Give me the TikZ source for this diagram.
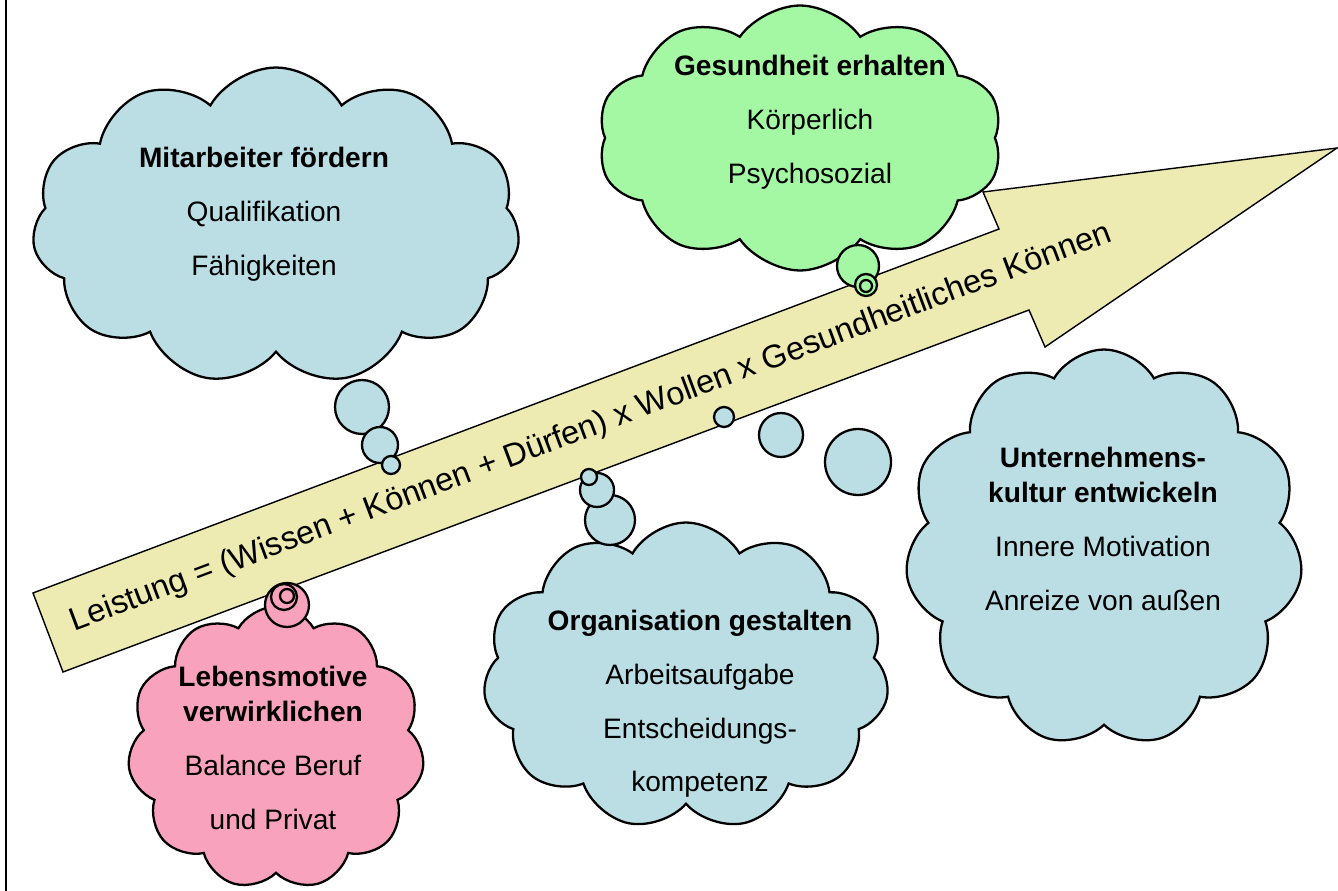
\documentclass[tikz,border=0pt]{standalone}
\usepackage{fontspec}
\setmainfont{Liberation Sans}
\usetikzlibrary{shapes.symbols}
\definecolor{wolkeblau}{RGB}{186,222,228}
\definecolor{wolkegruen}{RGB}{164,248,164}
\definecolor{wolkerosa}{RGB}{248,162,190}
\definecolor{pfeilgelb}{RGB}{237,235,178}
\newcommand{\zgap}{10.6pt}

\begin{document}
\begin{tikzpicture}[x=0.02cm, y=-0.02cm]
\tikzstyle{wolke} = [cloud, draw, line width=1.3pt, cloud puffs=11, cloud puff arc=120, inner sep=0pt]
\tikzstyle{blase} = [circle, draw, line width=1.3pt, inner sep=0pt]
\tikzstyle{schrift} = [align=center, font=\fontsize{16}{20}\selectfont]
\useasboundingbox (0,0) rectangle (1338,891);
\draw[line width=0.8pt] (6,0) -- (6,891);

\coordinate (p1) at (33,593);
\coordinate (p2) at (999,229);
\coordinate (p3) at (983,192);
\coordinate (spitze) at (1337,148);
\coordinate (p5) at (1045,347);
\coordinate (p6) at (1029,310);
\coordinate (p7) at (63,672);
\draw[line width=0.8pt, fill=pfeilgelb] (p1) -- (p2) -- (p3) -- (spitze) -- (p5) -- (p6) -- (p7) -- cycle;
\node[rotate=20.6, font=\fontsize{18.5}{22}\selectfont] (formel) at (591,428)
  {Leistung = (Wissen + Können + Dürfen) x Wollen x Gesundheitliches Können};

\node[wolke, fill=wolkeblau, minimum width=9.76cm, minimum height=6.34cm] (mitarbeiter) at (276,226) {};
\node[wolke, fill=wolkegruen, cloud puffs=10, cloud puff arc=110, minimum width=8.1cm, minimum height=5.3cm] (gesundheit) at (800,138) {};
\node[wolke, fill=wolkeblau, minimum width=7.96cm, minimum height=7.94cm] (kultur) at (1104,548) {};
\node[wolke, fill=wolkeblau, minimum width=8.12cm, minimum height=6.14cm] (organisation) at (686,676) {};
\node[wolke, fill=wolkerosa, minimum width=5.94cm, minimum height=5.66cm] (leben) at (276,748) {};

\node[blase, fill=wolkeblau, minimum size=1.08cm] (m1) at (362,407) {};
\node[blase, fill=wolkeblau, minimum size=0.72cm] (m2) at (380,445) {};
\node[blase, fill=wolkeblau, minimum size=0.36cm] (m3) at (391,465) {};
\node[blase, fill=wolkeblau, minimum size=1.0cm] (o1) at (610,520) {};
\node[blase, fill=wolkeblau, minimum size=0.68cm] (o2) at (597,490) {};
\node[blase, fill=wolkeblau, minimum size=0.32cm] (o3) at (589,477) {};
\node[blase, fill=wolkeblau, minimum size=1.32cm] (k1) at (858,462) {};
\node[blase, fill=wolkeblau, minimum size=0.88cm] (k2) at (781,435) {};
\node[blase, fill=wolkeblau, minimum size=0.4cm] (k3) at (724,417) {};
\node[blase, fill=wolkegruen, minimum size=0.84cm] (g1) at (858,266) {};
\node[blase, fill=wolkegruen, minimum size=0.44cm] (g2) at (866,285) {};
\node[blase, fill=wolkegruen, minimum size=0.24cm] (g3) at (866,286) {};
\node[blase, fill=wolkerosa, minimum size=0.88cm] (l1) at (287,605) {};
\node[blase, fill=wolkerosa, minimum size=0.52cm] (l2) at (284,597) {};
\node[blase, fill=wolkerosa, minimum size=0.28cm] (l3) at (287,596) {};

\node[schrift] (mitarbeitertext) at (264,214)
  {\textbf{Mitarbeiter fördern}\\[\zgap] Qualifikation\\[\zgap] Fähigkeiten};
\node[schrift] (gesundheittext) at (810,122)
  {\textbf{Gesundheit erhalten}\\[\zgap] Körperlich\\[\zgap] Psychosozial};
\node[schrift] (kulturtext) at (1103,529)
  {\textbf{Unternehmens-}\\ \textbf{kultur entwickeln}\\[\zgap] Innere Motivation\\[\zgap] Anreize von außen};
\node[schrift] (organisationtext) at (700,704)
  {\textbf{Organisation gestalten}\\[\zgap] Arbeitsaufgabe\\[\zgap] Entscheidungs-\\[\zgap] kompetenz};
\node[schrift] (lebentext) at (273,748)
  {\textbf{Lebensmotive}\\ \textbf{verwirklichen}\\[\zgap] Balance Beruf\\[\zgap] und Privat};
\end{tikzpicture}
\end{document}
